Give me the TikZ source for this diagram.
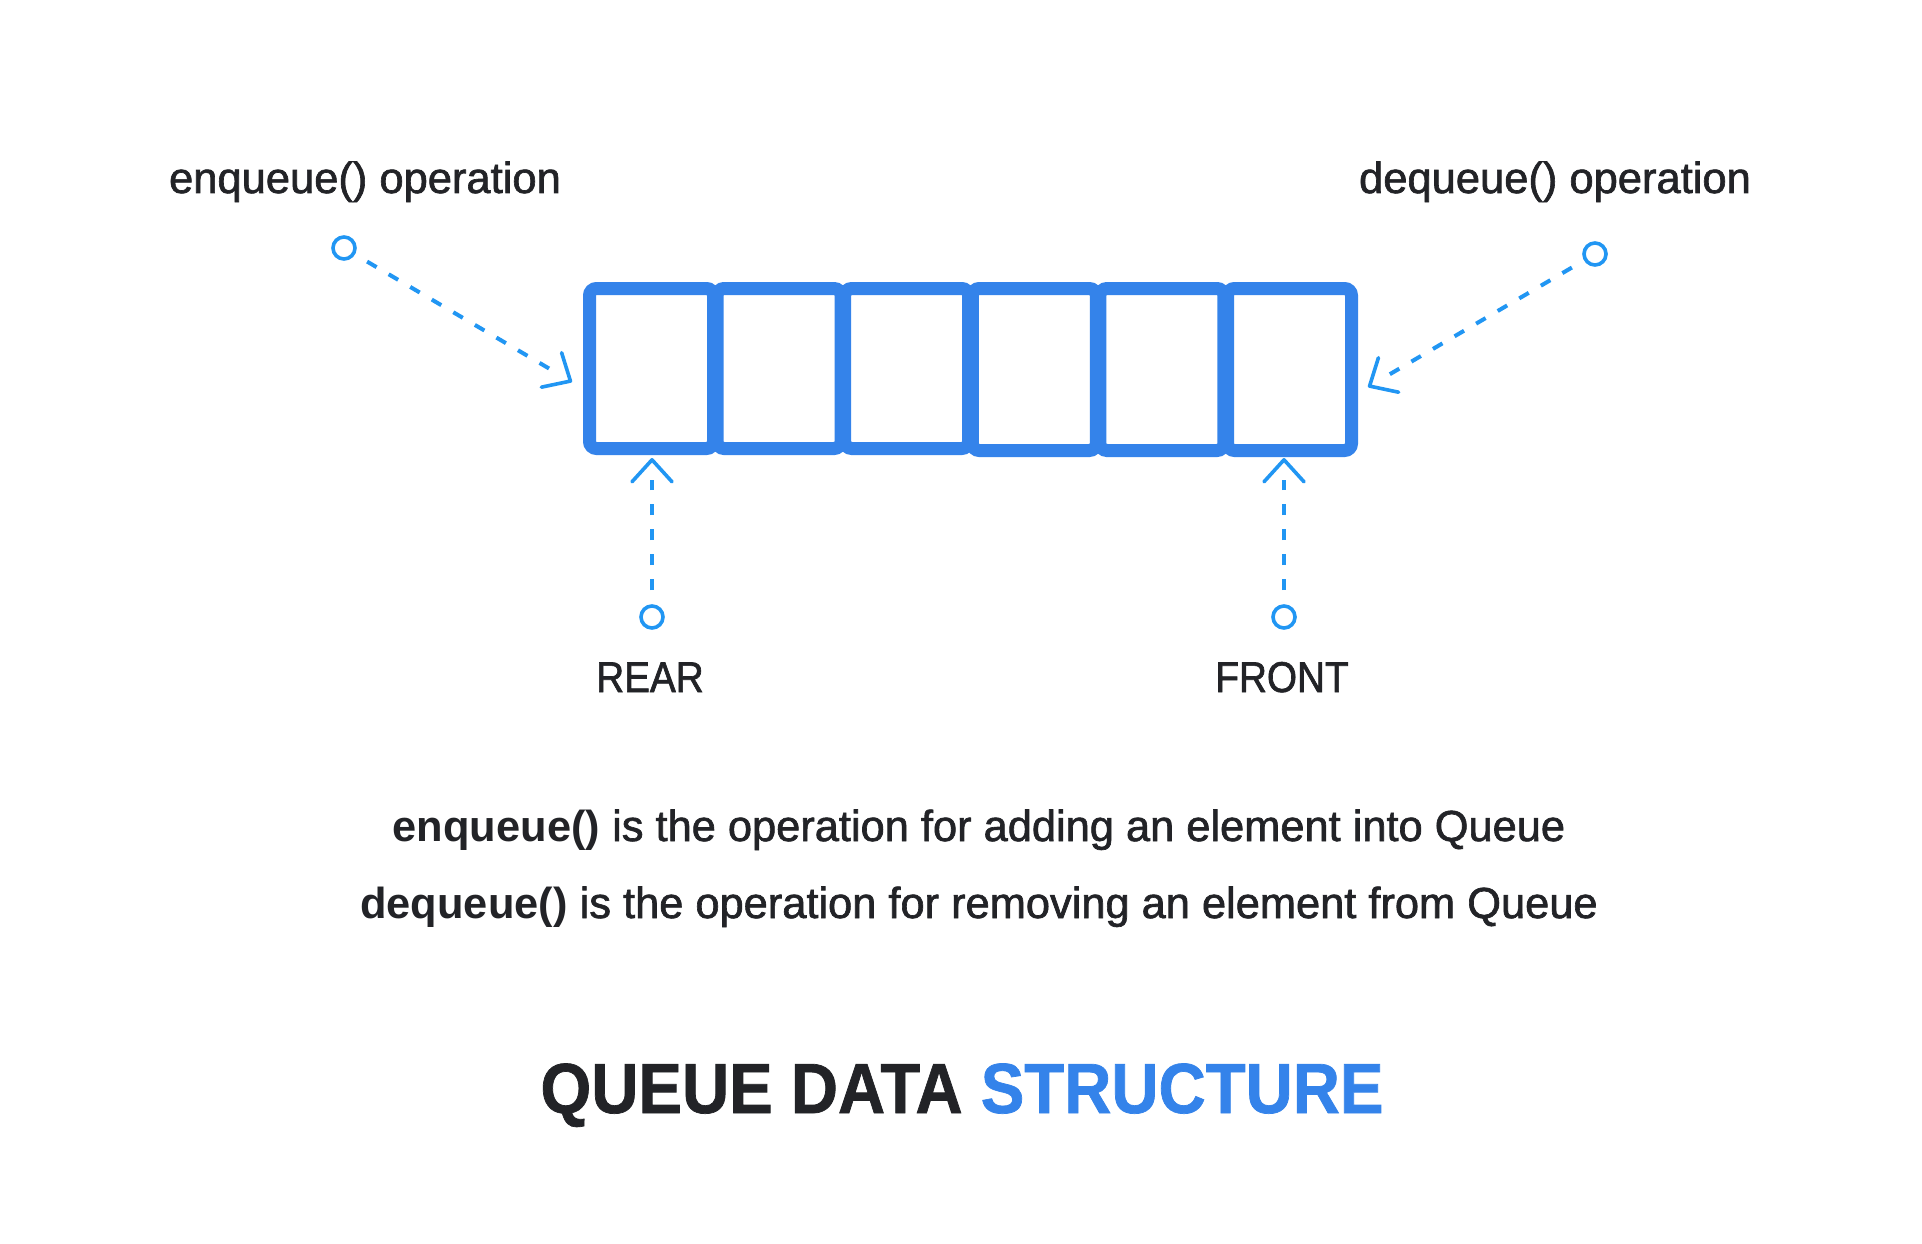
\documentclass[tikz,border=0pt]{standalone}
\usepackage{fontspec}
\setmainfont{Liberation Sans}[UprightFeatures={FakeBold=1.5}]
\newfontfamily\condfont{Liberation Sans}[FakeStretch=0.9, UprightFeatures={FakeBold=1.5}]
\newfontfamily\titlefont{Liberation Sans Bold}[FakeStretch=0.92, FakeBold=1]
\usetikzlibrary{arrows.meta,calc}
\definecolor{boxblue}{HTML}{3483EA}
\definecolor{arrblue}{HTML}{2196F3}
\definecolor{ink}{HTML}{222327}
\begin{document}
\begin{tikzpicture}[x=1pt,y=-1pt,
  qbox/.style={draw=boxblue, line width=13pt, rounded corners=7pt, minimum width=124pt, minimum height=160pt, inner sep=0pt},
  qboxb/.style={qbox, minimum height=162pt},
  dot/.style={circle, draw=arrblue, line width=3.6pt, minimum size=22pt, inner sep=0pt},
  link/.style={arrblue, line width=4pt, dash pattern=on 11pt off 14pt, shorten <=14pt, shorten >=22pt},
  tipst/.style={arrblue, line width=3.6pt, -{Straight Barb[length=22pt, width=40pt, round]}},
  lbl/.style={text=ink, anchor=base, inner sep=0pt, font=\fontsize{43.5}{50}\selectfont},
  caplbl/.style={text=ink, anchor=base, inner sep=0pt, font=\condfont\fontsize{43}{50}\selectfont},
  desc/.style={text=ink, anchor=base, inner sep=0pt, font=\fontsize{43.4}{50}\selectfont},
  ttl/.style={text=ink, anchor=base, inner sep=0pt, font=\titlefont\fontsize{71}{80}\selectfont}]
\useasboundingbox[fill=white] (0,0) rectangle (1922,1244);
% boxes
\node[qbox]  (b1) at (651.5,368.5) {};
\node[qbox]  (b2) at (779.1,368.5) {};
\node[qbox]  (b3) at (906.7,368.5) {};
\node[qboxb] (b4) at (1034.3,369.5) {};
\node[qboxb] (b5) at (1161.9,369.5) {};
\node[qboxb] (b6) at (1289.5,369.5) {};
% end circles
\node[dot] (e1) at (344,248) {};
\node[dot] (e2) at (1595,254) {};
\node[dot] (e3) at (652,617) {};
\node[dot] (e4) at (1284,617) {};
% arrow tips
\coordinate (t1) at (572,382);
\coordinate (t2) at (1368,387);
\coordinate (t3) at (652,458);
\coordinate (t4) at (1284,458);
% connectors
\foreach \i in {1,2,3,4}{
  \draw[link] (e\i) -- (t\i);
  \draw[tipst] ($(t\i)!3pt!(e\i)$) -- (t\i);
}
% labels
\node[lbl] (lenq) at (365,193) {enqueue() operation};
\node[lbl] (ldeq) at (1555,193) {dequeue() operation};
\node[caplbl] (lrear) at (650,692) {REAR};
\node[caplbl] (lfront) at (1282,692) {FRONT};
\node[desc] (d1) at (979,841) {\textbf{enqueue()} is the operation for adding an element into Queue};
\node[desc] (d2) at (979,918) {\textbf{dequeue()} is the operation for removing an element from Queue};
\node[ttl] (title) at (962,1113) {QUEUE DATA \textcolor{boxblue}{STRUCTURE}};
\end{tikzpicture}
\end{document}
